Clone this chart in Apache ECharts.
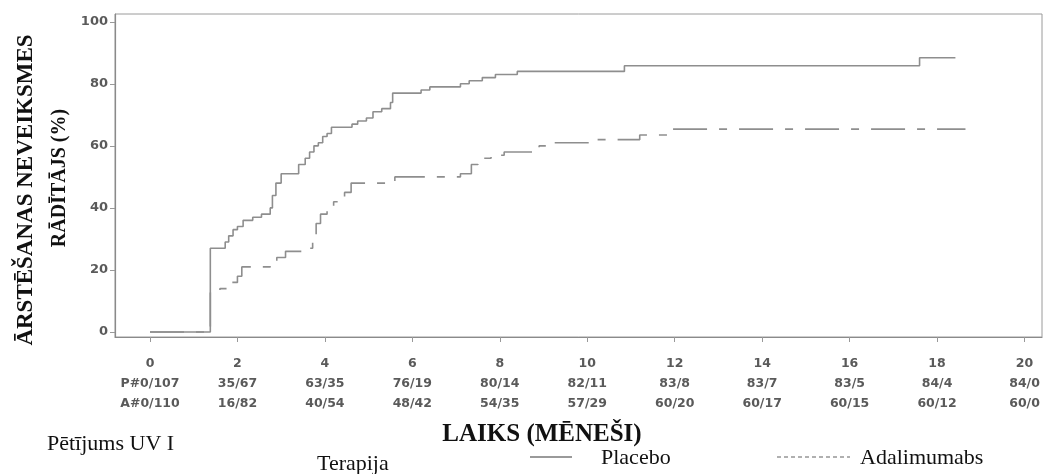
<!DOCTYPE html>
<html>
<head>
<meta charset="utf-8">
<script src="https://cdn.jsdelivr.net/npm/echarts@6/dist/echarts.min.js"></script>
<style>
html,body{margin:0;padding:0;background:#fff;}
#chart{width:1046px;height:474px;}
</style>
</head>
<body>
<div id="chart"></div>
<script>
// ---- data ----
const xTicks = [0, 2, 4, 6, 8, 10, 12, 14, 16, 18, 20];
const atRiskPlacebo = ['P#0/107', '35/67', '63/35', '76/19', '80/14', '82/11', '83/8', '83/7', '83/5', '84/4', '84/0'];
const atRiskAdalimumab = ['A#0/110', '16/82', '40/54', '48/42', '54/35', '57/29', '60/20', '60/17', '60/15', '60/12', '60/0'];
const yTicks = [0, 20, 40, 60, 80, 100];

const placeboMonths = [0, 1.38, 1.72, 1.8, 1.9, 2.0, 2.13, 2.35, 2.55, 2.75, 2.8, 2.88, 3.0, 3.4, 3.55, 3.65, 3.75, 3.85, 3.95, 4.05, 4.15, 4.62, 4.75, 4.95, 5.1, 5.3, 5.5, 5.55, 6.2, 6.4, 7.1, 7.3, 7.6, 7.9, 8.4, 10.85, 17.6, 18.42];
const placeboValues = [0, 27, 29, 31, 33, 34, 36, 37, 38, 40, 44, 48, 51, 54, 56, 58, 60, 61, 63, 64, 66, 67, 68, 69, 71, 72, 74, 77, 78, 79, 80, 81, 82, 83, 84, 85.8, 88.4, 88.4];

const adaMonths = [0, 1.38, 1.6, 1.8, 2.0, 2.1, 2.75, 2.9, 3.1, 3.6, 3.72, 3.8, 3.9, 4.05, 4.2, 4.45, 4.6, 5.6, 7.1, 7.35, 7.5, 7.8, 8.1, 8.9, 9.25, 10.2, 11.2, 11.95, 18.65];
const adaValues = [0, 13, 14, 16, 18, 21, 22, 24, 26, 27, 31, 35, 38, 40, 42, 45, 48, 50, 51, 54, 56, 57, 58, 60, 61, 62, 63.5, 65.4, 65.4];

const seriesNames = ['Placebo', 'Adalimumabs'];

const placeboData = placeboMonths.map((m, i) => [m, placeboValues[i]]);
const adaData = adaMonths.map((m, i) => [m, adaValues[i]]);

const chart = echarts.init(document.getElementById('chart'), null, {renderer: 'canvas'});
const lineGray = '#8e8e8e';
const serif = '"Liberation Serif", "Times New Roman", serif';

chart.setOption({
  backgroundColor: '#fff',
  animation: false,
  grid: {
    left: 115, right: 4, top: 14, bottom: 137,
    show: true, borderColor: '#9a9a9a', borderWidth: 1, backgroundColor: 'transparent'
  },
  xAxis: {
    type: 'value',
    min: -0.8, max: 20.4,
    axisLine: {show: true, onZero: false, lineStyle: {color: '#8a8a8a', width: 1.2}},
    splitLine: {show: false},
    axisTick: {show: true, customValues: xTicks, length: 5, inside: false, lineStyle: {color: '#999'}},
    axisLabel: {
      customValues: xTicks,
      margin: 17,
      fontFamily: '"DejaVu Sans", sans-serif',
      fontWeight: 'bold',
      fontSize: 12.5,
      lineHeight: 20,
      color: '#5a5a5a',
      formatter: function (v) {
        const i = xTicks.indexOf(Math.round(v));
        return v + '\n' + atRiskPlacebo[i] + '\n' + atRiskAdalimumab[i];
      }
    }
  },
  yAxis: {
    type: 'value',
    min: -1.6, max: 102.5,
    axisLine: {show: true, onZero: false, lineStyle: {color: '#8a8a8a', width: 1.2}},
    splitLine: {show: false},
    axisTick: {show: true, customValues: yTicks, length: 5, lineStyle: {color: '#999'}},
    axisLabel: {
      customValues: yTicks,
      margin: 7,
      fontFamily: '"DejaVu Sans", sans-serif',
      fontWeight: 'bold',
      fontSize: 13,
      color: '#5a5a5a'
    }
  },
  series: [
    {
      name: seriesNames[0],
      type: 'line',
      step: 'end',
      showSymbol: false,
      symbol: 'none',
      data: placeboData,
      lineStyle: {color: lineGray, width: 1.6, type: 'solid'},
      itemStyle: {color: lineGray}
    },
    {
      name: seriesNames[1],
      type: 'line',
      step: 'end',
      showSymbol: false,
      symbol: 'none',
      data: adaData,
      lineStyle: {color: lineGray, width: 1.6, type: [34, 12, 8, 12]},
      itemStyle: {color: lineGray}
    }
  ],
  graphic: [
    {
      type: 'text', x: 26, y: 190, rotation: Math.PI / 2,
      style: {text: 'ĀRSTĒŠANAS NEVEIKSMES', font: 'bold 23px ' + serif, fill: '#111', align: 'center', verticalAlign: 'middle'}
    },
    {
      type: 'text', x: 60, y: 178, rotation: Math.PI / 2,
      style: {text: 'RĀDĪTĀJS (%)', font: 'bold 20px ' + serif, fill: '#111', align: 'center', verticalAlign: 'middle'}
    },
    {
      type: 'text', x: 542, y: 435,
      style: {text: 'LAIKS (MĒNEŠI)', font: 'bold 25px ' + serif, fill: '#111', align: 'center', verticalAlign: 'middle'}
    },
    {
      type: 'text', x: 47, y: 444,
      style: {text: 'Pētījums UV I', font: '22px ' + serif, fill: '#111', align: 'left', verticalAlign: 'middle'}
    },
    {
      type: 'text', x: 317, y: 464,
      style: {text: 'Terapija', font: '22px ' + serif, fill: '#111', align: 'left', verticalAlign: 'middle'}
    },
    // legend samples
    {
      type: 'line', shape: {x1: 530, y1: 457, x2: 572, y2: 457},
      style: {stroke: '#9a9a9a', lineWidth: 2}
    },
    {
      type: 'text', x: 601, y: 458,
      style: {text: seriesNames[0], font: '22px ' + serif, fill: '#111', align: 'left', verticalAlign: 'middle'}
    },
    {
      type: 'line', shape: {x1: 777, y1: 457, x2: 850, y2: 457},
      style: {stroke: '#b0b0b0', lineWidth: 2, lineDash: [4, 3]}
    },
    {
      type: 'text', x: 860, y: 458,
      style: {text: seriesNames[1], font: '22px ' + serif, fill: '#111', align: 'left', verticalAlign: 'middle'}
    }
  ]
});
</script>
</body>
</html>
